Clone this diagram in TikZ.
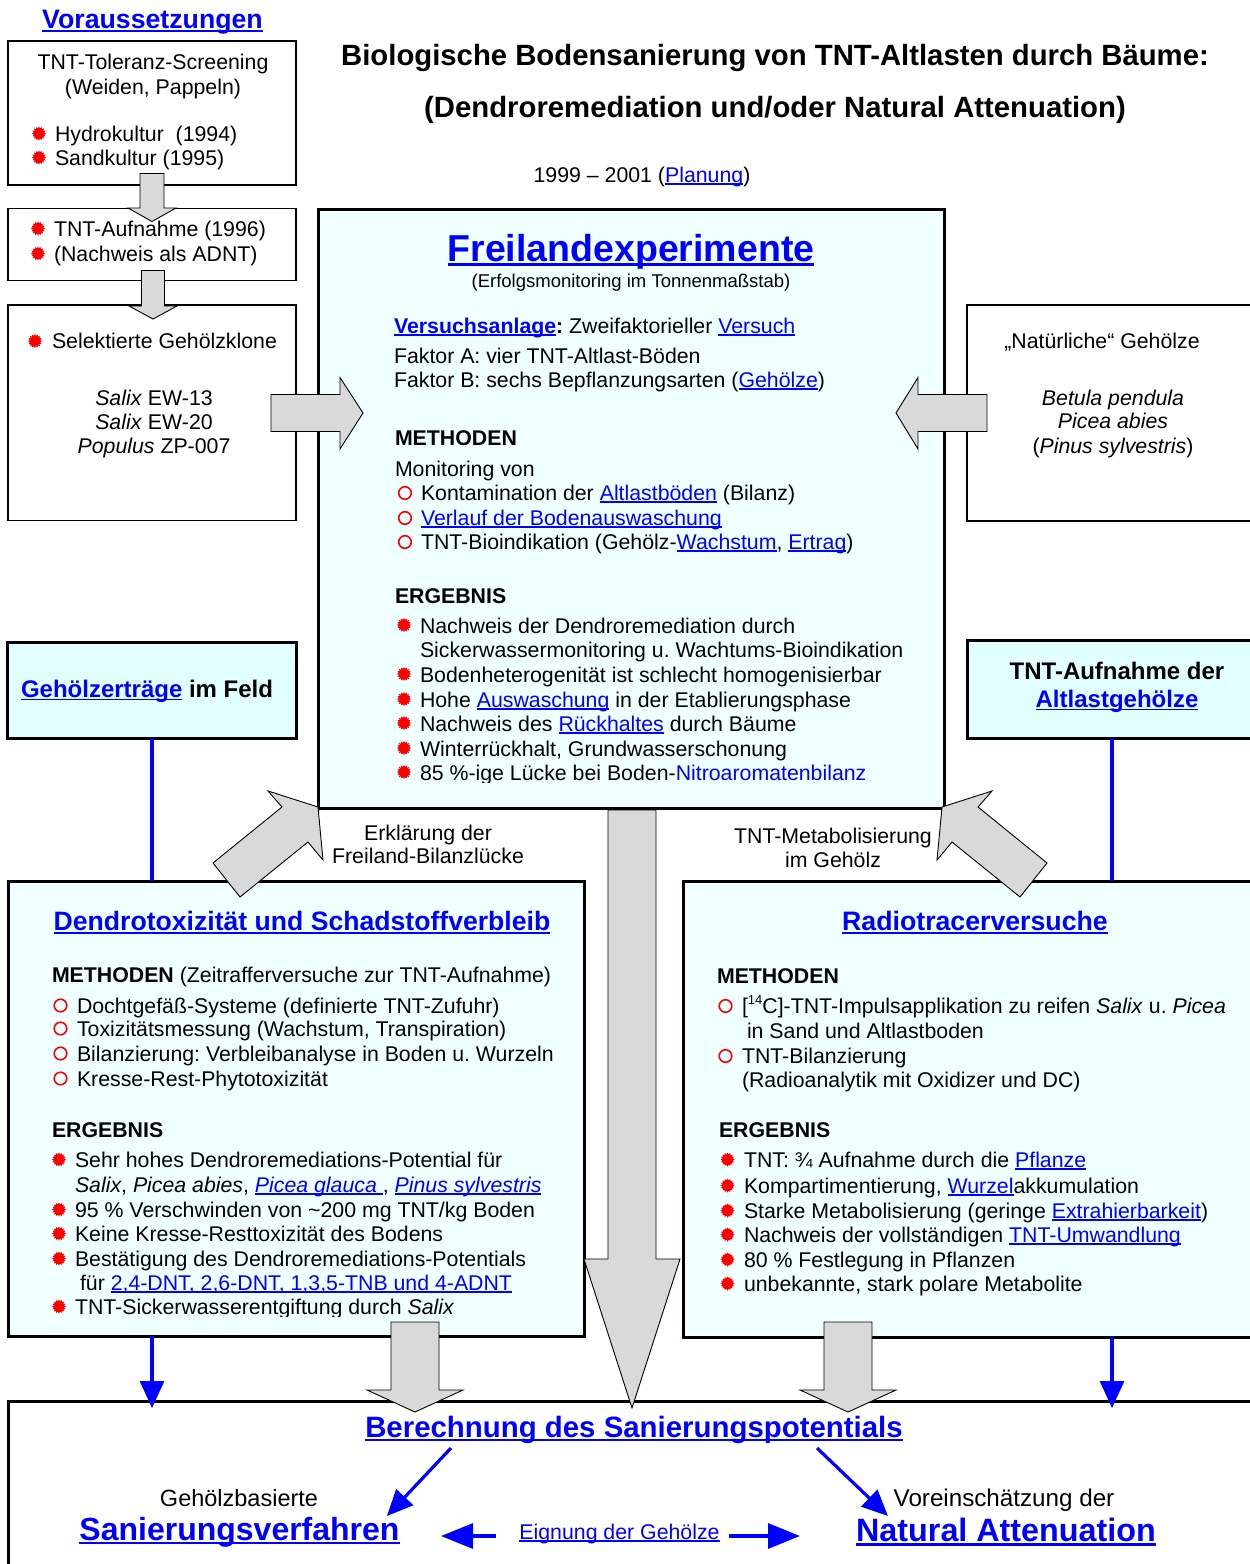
\documentclass[tikz,border=0pt]{standalone}
\usepackage{fontspec}
\setmainfont{Liberation Sans}
\usetikzlibrary{arrows.meta,calc}
\frenchspacing
\definecolor{lb}{RGB}{0,0,255}
\definecolor{bigfill}{RGB}{240,255,255}
\definecolor{smallfill}{RGB}{226,255,255}
\definecolor{arrgray}{RGB}{217,217,217}
\newcommand\lk[1]{\textcolor{lb}{\setbox0=\hbox{#1}\rlap{\rule[-0.14em]{\wd0}{0.075em}}\box0}}
\newcommand\bl[1]{\textcolor{lb}{#1}}
\newcommand\fsN{\fontsize{21.3}{25}\selectfont\frenchspacing}
\newcommand\supfour{\raisebox{0.42em}{\fontsize{13}{13}\selectfont 14}}
\tikzset{
 thinbox/.style={draw=black, line width=1.1pt, fill=white, inner sep=0pt, outer sep=0pt, anchor=north west},
 thickbox/.style={draw=black, line width=3pt, inner sep=0pt, outer sep=0pt, anchor=north west},
 t/.style={inner sep=0pt, outer sep=0pt, anchor=base west, font=\fsN},
 tc/.style={t, anchor=base},
 garrow/.style={fill=arrgray, draw=black, line width=0.9pt, line join=miter},
 blueline/.style={draw=lb, line width=3.2pt},
 bluearrow/.style={blueline, -{Triangle[length=27pt,width=24pt]}},
 diagarrow/.style={blueline, -{Triangle[length=26pt,width=23pt]}},
 horarrow/.style={blueline, -{Triangle[length=32pt,width=25pt]}},
 sbul/.pic={\fill[red] (0:7pt) \foreach \k [evaluate=\k as \r using {7-1.7*mod(\k,2)}] in {1,...,31} { -- ({\k*11.25}:\r pt) } -- cycle;},
 cbul/.pic={\draw[red, line width=1.6pt] (0,0) circle (6.3pt);}
}
\begin{document}
\begin{tikzpicture}[x=1pt,y=-1pt]
\useasboundingbox (0,0) rectangle (1250,1564);
\clip (0,0) rectangle (1250,1564);

% ---------- boxes ----------
\node[thinbox, minimum width=288pt, minimum height=144pt] (vor1) at (8,41) {};
\node[thinbox, minimum width=288pt, minimum height=72pt] (vor2) at (8,208.5) {};
\node[thinbox, minimum width=288pt, minimum height=215.5pt] (vor3) at (8,305) {};
\node[thickbox, fill=bigfill, minimum width=626pt, minimum height=599pt] (frei) at (318,209) {};
\node[thinbox, minimum width=300pt, minimum height=216pt] (nat) at (967,305) {};
\node[thickbox, fill=smallfill, minimum width=289pt, minimum height=96pt] (geh) at (7.5,642) {};
\node[thickbox, fill=smallfill, minimum width=290pt, minimum height=98pt] (alt) at (967,640) {};
\node[thickbox, fill=bigfill, minimum width=576pt, minimum height=455pt] (dendro) at (8,881) {};
\node[thickbox, fill=bigfill, minimum width=600pt, minimum height=456pt] (radio) at (683,881) {};
\node[thickbox, fill=white, minimum width=1260pt, minimum height=200pt] (bott) at (8.5,1401) {};

% ---------- blue connectors ----------
\draw[blueline] (geh.south) -- (geh.south |- dendro.north);
\draw[blueline] (alt.south) -- (alt.south |- radio.north);
\draw[bluearrow] (dendro.south -| geh.south) -- ($(bott.north -| geh.south)+(0,7)$);
\draw[bluearrow] (radio.south -| alt.south) -- ($(bott.north -| alt.south)+(0,7)$);

\coordinate (dl1) at (451,1448); \coordinate (dl2) at (387,1516);
\coordinate (dr1) at (817,1448); \coordinate (dr2) at (888,1516);
\coordinate (hl1) at (496,1536); \coordinate (hl2) at (441,1536);
\coordinate (hr1) at (729,1536); \coordinate (hr2) at (800,1536);
\draw[diagarrow] (dl1) -- (dl2);
\draw[diagarrow] (dr1) -- (dr2);
\draw[horarrow] (hl1) -- (hl2);
\draw[horarrow] (hr1) -- (hr2);

% ---------- gray block arrows ----------
\draw[garrow] (140,173.5) -- (164,173.5) -- (164,208) -- (176,208) -- (152,221.5) -- (128,208) -- (140,208) -- cycle;
\draw[garrow] (141.5,270.5) -- (164.5,270.5) -- (164.5,306) -- (177,306) -- (153,319) -- (129,306) -- (141.5,306) -- cycle;
\draw[garrow] (271,394.5) -- (340,394.5) -- (340,377.5) -- (363,413) -- (340,449) -- (340,431.5) -- (271,431.5) -- cycle;
\draw[garrow] (987,394.5) -- (918,394.5) -- (918,377.5) -- (896,413) -- (918,449) -- (918,431.5) -- (987,431.5) -- cycle;
\draw[garrow] (318,807) -- (323,860) -- (308,842) -- (240,897) -- (213,863) -- (282,807) -- (268,791) -- cycle;
\draw[garrow] (942,807) -- (937,860) -- (952,842) -- (1020,897) -- (1047,863) -- (978,807) -- (992,791) -- cycle;
\draw[garrow] (608,810) -- (656,810) -- (656,1259) -- (680,1259) -- (632,1408) -- (584,1259) -- (608,1259) -- cycle;
\draw[garrow] (391,1322) -- (439,1322) -- (439,1390) -- (463,1390) -- (415,1412) -- (367,1390) -- (391,1390) -- cycle;
\draw[garrow] (824,1322) -- (872,1322) -- (872,1390) -- (896,1390) -- (848,1412) -- (800,1390) -- (824,1390) -- cycle;

% ---------- titles ----------
\node[tc, font=\fontsize{26.7}{30}\selectfont\bfseries] (vtitle) at (152.5,28.5) {\lk{Voraussetzungen}};
\node[tc, font=\fontsize{29.3}{33}\selectfont\bfseries] (t1) at (775,65) {Biologische Bodensanierung von TNT-Altlasten durch Bäume:};
\node[tc, font=\fontsize{29.3}{33}\selectfont\bfseries] (t2) at (775,117) {(Dendroremediation und/oder Natural Attenuation)};
\node[tc] (t3) at (642,182) {1999 – 2001 (\lk{Planung})};

% ---------- Voraussetzungen boxes ----------
\node[tc] (b1a) at (153,69) {TNT-Toleranz-Screening};
\node[tc] (b1b) at (153,94) {(Weiden, Pappeln)};
\node[t] (b1c) at (55,141) {Hydrokultur\ \ (1994)};
\node[t] (b1d) at (55,165) {Sandkultur (1995)};
\node[t] (b2a) at (54,236) {TNT-Aufnahme (1996)};
\node[t] (b2b) at (54,261) {(Nachweis als ADNT)};
\node[t] (b3a) at (52,348) {Selektierte Gehölzklone};
\node[tc] (b3b) at (154,405) {\textit{Salix} EW-13};
\node[tc] (b3c) at (154,429) {\textit{Salix} EW-20};
\node[tc] (b3d) at (154,453) {\textit{Populus} ZP-007};
\pic at (39,133.5) {sbul};
\pic at (39,157.5) {sbul};
\pic at (38,228.5) {sbul};
\pic at (38,253.5) {sbul};
\pic at (35,341) {sbul};

% ---------- Freilandexperimente ----------
\node[tc, font=\fontsize{37.5}{40}\selectfont\bfseries] (fa) at (631,261) {\lk{Freilandexperimente}};
\node[tc, font=\fontsize{18.5}{21}\selectfont] (fb) at (631,287) {(Erfolgsmonitoring im Tonnenmaßstab)};
\node[t] (fc) at (394,333) {\textbf{\lk{Versuchsanlage}:} Zweifaktorieller \lk{Versuch}};
\node[t] (fd) at (394,363) {Faktor A: vier TNT-Altlast-Böden};
\node[t] (fe) at (394,387) {Faktor B: sechs Bepflanzungsarten (\lk{Gehölze})};
\node[t] (ff) at (395,445) {\textbf{METHODEN}};
\node[t] (fg) at (395,476) {Monitoring von};
\node[t] (fh) at (421,500) {Kontamination der \lk{Altlastböden} (Bilanz)};
\node[t] (fi) at (421,525) {\lk{Verlauf der Bodenauswaschung}};
\node[t] (fj) at (421,549) {TNT-Bioindikation (Gehölz-\lk{Wachstum}, \lk{Ertrag})};
\pic at (405,493) {cbul};
\pic at (405,518) {cbul};
\pic at (405,542) {cbul};
\node[t] (fk) at (395,603) {\textbf{ERGEBNIS}};
\node[t] (fl1) at (420,633) {Nachweis der Dendroremediation durch};
\node[t] (fl2) at (420,657) {Sickerwassermonitoring u. Wachtums-Bioindikation};
\node[t] (fl3) at (420,682) {Bodenheterogenität ist schlecht homogenisierbar};
\node[t] (fl4) at (420,707) {Hohe \lk{Auswaschung} in der Etablierungsphase};
\node[t] (fl5) at (420,731) {Nachweis des \lk{Rückhaltes} durch Bäume};
\node[t] (fl6) at (420,756) {Winterrückhalt, Grundwasserschonung};
\begin{scope}
\clip (380,740) rectangle (940,782);
\node[t] (fl7) at (420,780) {85 \%-ige Lücke bei Boden-\bl{Nitroaromatenbilanz}};
\end{scope}
\foreach \yy in {633,682,707,731,756,780} { \pic at (404,\yy-8) {sbul}; }

% ---------- Natuerliche Gehoelze ----------
\node[tc] (na) at (1102,348) {„Natürliche“ Gehölze};
\node[tc] (nb) at (1113,405) {\textit{Betula pendula}};
\node[tc] (nc) at (1113,428) {\textit{Picea abies}};
\node[tc] (nd) at (1113,453) {(\textit{Pinus sylvestris})};

% ---------- small cyan boxes ----------
\node[t, font=\fontsize{24}{28}\selectfont\bfseries] (ga) at (21,697) {\lk{Gehölzerträge} im Feld};
\node[tc, font=\fontsize{24}{28}\selectfont\bfseries] (aa) at (1117,679) {TNT-Aufnahme der};
\node[tc, font=\fontsize{24}{28}\selectfont\bfseries] (ab) at (1117,707) {\lk{Altlastgehölze}};

% ---------- labels ----------
\node[tc] (la) at (428,840) {Erklärung der};
\node[tc] (lbl) at (428,863) {Freiland-Bilanzlücke};
\node[tc] (lc) at (833,843) {TNT-Metabolisierung};
\node[tc] (ld) at (833,867) {im Gehölz};

% ---------- Dendrotoxizitaet ----------
\node[tc, font=\fontsize{26.6}{29}\selectfont\bfseries] (da) at (302,930) {\lk{Dendrotoxizität und Schadstoffverbleib}};
\node[t] (db) at (52,982) {\textbf{METHODEN} (Zeitrafferversuche zur TNT-Aufnahme)};
\node[t] (dc) at (77,1013) {Dochtgefäß-Systeme (definierte TNT-Zufuhr)};
\node[t] (dd) at (77,1036) {Toxizitätsmessung (Wachstum, Transpiration)};
\node[t] (de) at (77,1061) {Bilanzierung: Verbleibanalyse in Boden u. Wurzeln};
\node[t] (df) at (77,1086) {Kresse-Rest-Phytotoxizität};
\foreach \yy in {1013,1036,1061,1086} { \pic at (60.5,\yy-7.5) {cbul}; }
\node[t] (dg) at (52,1137) {\textbf{ERGEBNIS}};
\node[t] (dh1) at (75,1167) {Sehr hohes Dendroremediations-Potential für};
\node[t] (dh2) at (75,1192) {\textit{Salix}, \textit{Picea abies}, \lk{\textit{Picea glauca }}, \lk{\textit{Pinus sylvestris}}};
\node[t] (dh3) at (75,1217) {95 \% Verschwinden von \textasciitilde200 mg TNT/kg Boden};
\node[t] (dh4) at (75,1241) {Keine Kresse-Resttoxizität des Bodens};
\node[t] (dh5) at (75,1266) {Bestätigung des Dendroremediations-Potentials};
\node[t] (dh6) at (80,1290) {für \lk{2,4-DNT, 2,6-DNT, 1,3,5-TNB und 4-ADNT}};
\begin{scope}
\clip (40,1295) rectangle (580,1316.7);
\node[t] (dh7) at (75,1314) {TNT-Sickerwasserentgiftung durch \textit{Salix}};
\end{scope}
\foreach \yy in {1167,1217,1241,1266,1314} { \pic at (59,\yy-7.5) {sbul}; }

% ---------- Radiotracer ----------
\node[tc, font=\fontsize{26.7}{29}\selectfont\bfseries] (ra) at (975,930) {\lk{Radiotracerversuche}};
\node[t] (rb) at (717,983) {\textbf{METHODEN}};
\node[t] (rc) at (742,1013) {[\supfour C]-TNT-Impulsapplikation zu reifen \textit{Salix} u. \textit{Picea}};
\node[t] (rd) at (747,1038) {in Sand und Altlastboden};
\node[t] (re) at (742,1063) {TNT-Bilanzierung};
\node[t] (rf) at (742,1087) {(Radioanalytik mit Oxidizer und DC)};
\pic at (725.5,1006) {cbul};
\pic at (725.5,1056) {cbul};
\node[t] (rg) at (719,1137) {\textbf{ERGEBNIS}};
\node[t] (rh1) at (744,1167) {TNT: ¾ Aufnahme durch die \lk{Pflanze}};
\node[t] (rh2) at (744,1193) {Kompartimentierung, \lk{Wurzel}akkumulation};
\node[t] (rh3) at (744,1218) {Starke Metabolisierung (geringe \lk{Extrahierbarkeit})};
\node[t] (rh4) at (744,1242) {Nachweis der vollständigen \lk{TNT-Umwandlung}};
\node[t] (rh5) at (744,1267) {80 \% Festlegung in Pflanzen};
\node[t] (rh6) at (744,1291) {unbekannte, stark polare Metabolite};
\foreach \yy in {1167,1193,1218,1242,1267,1291} { \pic at (727.5,\yy-7.5) {sbul}; }

% ---------- bottom ----------
\node[tc, font=\fontsize{29.4}{33}\selectfont\bfseries] (ba) at (634,1437) {\lk{Berechnung des Sanierungspotentials}};
\node[tc, font=\fontsize{23.5}{27}\selectfont] (bb) at (239,1506) {Gehölzbasierte};
\node[tc, font=\fontsize{32}{36}\selectfont\bfseries] (bc) at (239.5,1540) {\lk{Sanierungsverfahren}};
\node[tc] (bd) at (619.5,1539) {\lk{Eignung der Gehölze}};
\node[tc, font=\fontsize{24.2}{27}\selectfont] (be) at (1004,1506) {Voreinschätzung der};
\node[tc, font=\fontsize{32.3}{35}\selectfont\bfseries] (bf) at (1006,1541) {\lk{Natural Attenuation}};
\end{tikzpicture}
\end{document}
